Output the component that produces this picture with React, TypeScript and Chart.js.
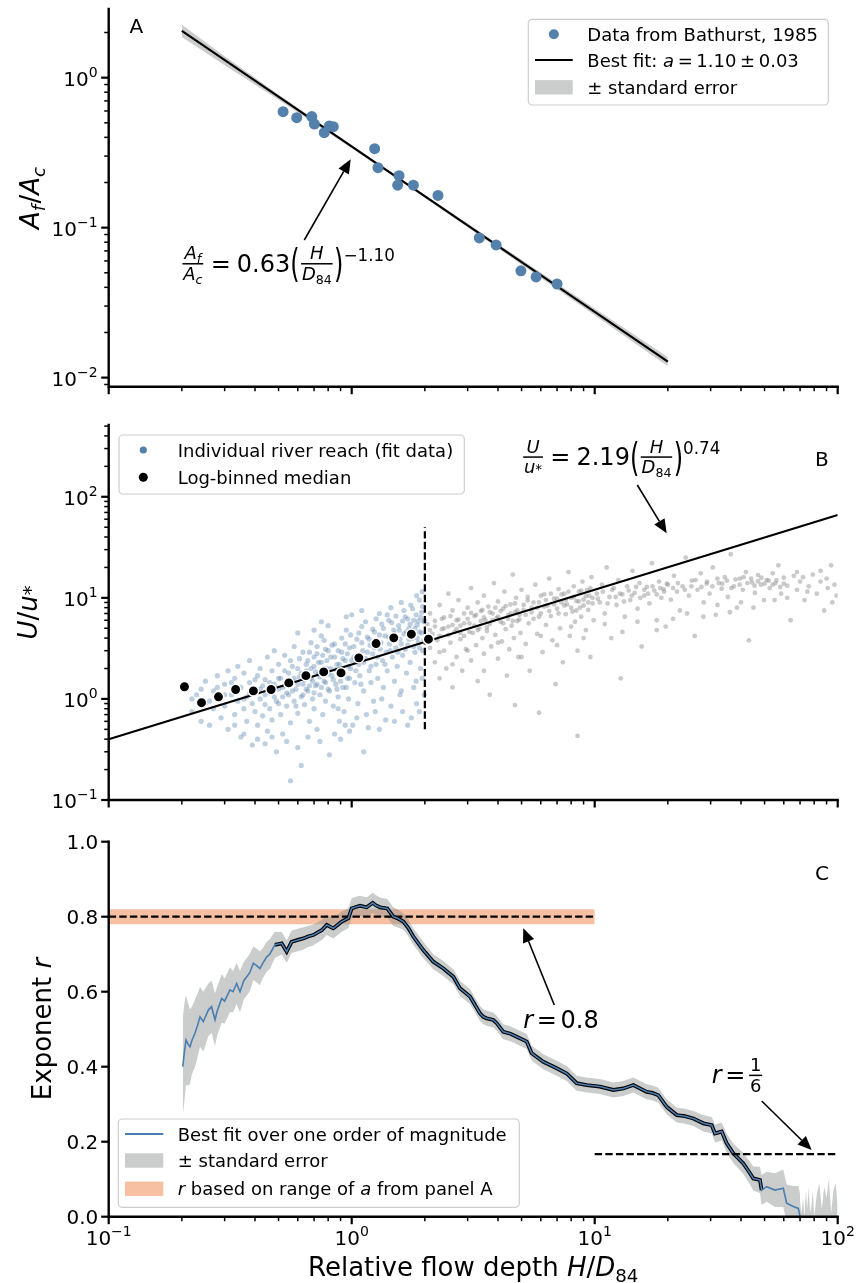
import React, { useEffect, useRef } from "react";
import { Chart, registerables } from "chart.js";
Chart.register(...registerables);

const FONT = '"DejaVu Sans", "Noto Sans", sans-serif';

// ---------------- Panel A data ----------------
const bathurstX = [0.522, 0.594, 0.685, 0.702, 0.771, 0.809, 0.84, 1.243, 1.283, 1.566, 1.546, 1.794, 2.265, 3.35, 3.93, 4.97, 5.74, 7.0];
const bathurstY = [0.593, 0.541, 0.55, 0.491, 0.43, 0.477, 0.471, 0.336, 0.251, 0.222, 0.192, 0.192, 0.164, 0.0854, 0.0767, 0.0515, 0.0469, 0.0421];
const fitAX = [0.2, 20];
const fitAY = [2.05, 0.0128];
const seAX = [0.2, 0.3, 0.5, 1, 2, 5, 10, 20];
const seALo = [1.87, 1.21, 0.712, 0.338, 0.158, 0.0569, 0.0261, 0.0119];
const seAHi = [2.25, 1.39, 0.773, 0.354, 0.165, 0.061, 0.0289, 0.0137];

// ---------------- Panel B data ----------------
const riverFit: number[][] = [
  [0.21, 1.3], [0.22, 0.75], [0.23, 1.1], [0.24, 0.6], [0.25, 1.5], [0.25, 0.9], [0.26, 0.55], [0.27, 1.2], [0.27, 0.8], [0.28, 1.7], [0.29, 1.0], [0.29, 0.65], [0.3, 1.4], [0.3, 0.85], [0.31, 0.5], [0.31, 1.9],
  [0.32, 1.1], [0.33, 0.7], [0.33, 1.6], [0.34, 0.95], [0.34, 2.1], [0.35, 0.42], [0.35, 1.3], [0.36, 0.8], [0.36, 1.8], [0.37, 1.05], [0.37, 0.6], [0.38, 1.45], [0.38, 2.4], [0.39, 0.9], [0.39, 0.35], [0.4, 1.2], [0.4, 0.75], [0.41, 1.7], [0.41, 0.55], [0.42, 1.0], [0.42, 2.0], [0.43, 1.35], [0.43, 0.68], [0.44, 0.88], [0.44, 1.55], [0.45, 2.6], [0.45, 0.48],
  [0.46, 1.15], [0.46, 0.8], [0.47, 1.9], [0.47, 0.62], [0.48, 1.4], [0.48, 3.0], [0.49, 0.95], [0.49, 0.3], [0.5, 1.25], [0.5, 2.2], [0.51, 0.7], [0.51, 1.6], [0.52, 1.05], [0.52, 0.45], [0.53, 2.7], [0.53, 1.35], [0.54, 0.85], [0.55, 1.8], [0.55, 1.1], [0.56, 0.58], [0.56, 2.4], [0.56, 0.155], [0.57, 1.5], [0.58, 0.95], [0.58, 3.3], [0.59, 1.25], [0.6, 2.0], [0.6, 0.72], [0.6, 4.5], [0.61, 1.65], [0.62, 1.05], [0.62, 0.22], [0.63, 2.9], [0.63, 1.4], [0.64, 0.88], [0.65, 1.9],
  [0.66, 2.4], [0.66, 1.2], [0.67, 0.6], [0.68, 1.6], [0.68, 3.6], [0.69, 1.0], [0.7, 2.1], [0.7, 0.8], [0.7, 4.8], [0.71, 1.35], [0.72, 2.8], [0.72, 0.5], [0.73, 1.75], [0.74, 1.1], [0.75, 4.2], [0.75, 2.3], [0.75, 5.8], [0.76, 0.7], [0.77, 1.5], [0.78, 3.1], [0.78, 0.95], [0.79, 2.0], [0.8, 1.25], [0.8, 5.3], [0.81, 0.28], [0.82, 2.6], [0.83, 1.7], [0.84, 0.85], [0.85, 3.5], [0.86, 1.4], [0.87, 2.2], [0.88, 1.05], [0.89, 0.6], [0.9, 1.9], [0.9, 0.4], [0.91, 2.9], [0.92, 1.3], [0.93, 0.75], [0.94, 2.4], [0.95, 4.8], [0.95, 6.5], [0.96, 1.6], [0.97, 1.0], [0.98, 3.2], [0.99, 2.0],
  [1.0, 6.8], [1.01, 0.55], [1.02, 2.6], [1.03, 1.45], [1.05, 3.9], [1.06, 0.9], [1.07, 2.2], [1.08, 1.7], [1.1, 5.2], [1.1, 7.5], [1.11, 3.0], [1.12, 1.2], [1.12, 0.3], [1.14, 2.5], [1.15, 0.7], [1.16, 4.1], [1.18, 1.9], [1.19, 3.4], [1.2, 1.45], [1.22, 2.8], [1.23, 0.95], [1.24, 4.6], [1.26, 2.2], [1.27, 3.7], [1.28, 1.6], [1.3, 0.5], [1.3, 7.0], [1.31, 3.1], [1.33, 5.5], [1.34, 2.4], [1.35, 1.3], [1.37, 4.2], [1.39, 2.9], [1.4, 1.9], [1.42, 6.0], [1.43, 3.5], [1.45, 0.85], [1.45, 8.0], [1.47, 2.6], [1.49, 4.8], [1.5, 1.5], [1.5, 0.6], [1.52, 3.2], [1.54, 2.1], [1.56, 5.3], [1.58, 3.9], [1.6, 1.2], [1.6, 9.0], [1.62, 2.7], [1.64, 4.4], [1.66, 6.5], [1.68, 1.8], [1.7, 3.4], [1.7, 0.55], [1.72, 5.0], [1.74, 2.3], [1.75, 8.5], [1.76, 0.65], [1.78, 4.0], [1.8, 6.0], [1.82, 2.9], [1.84, 1.5], [1.85, 10.5], [1.86, 5.4], [1.88, 3.6], [1.9, 4.6], [1.9, 9.5], [1.9, 0.75], [1.92, 2.0], [1.94, 7.2], [1.95, 11.5], [1.96, 3.0], [1.98, 5.8], [1.99, 1.1],
  [0.42, 1.25], [0.44, 1.1], [0.46, 1.45], [0.48, 1.05], [0.5, 1.6], [0.5, 0.9], [0.52, 1.3], [0.53, 1.9], [0.54, 1.15], [0.55, 1.5], [0.57, 1.2], [0.57, 2.1], [0.58, 1.6], [0.59, 0.85], [0.6, 1.4], [0.61, 2.5], [0.62, 1.8], [0.63, 1.1], [0.64, 1.55], [0.65, 2.2], [0.65, 1.25], [0.66, 1.7], [0.67, 2.9], [0.67, 1.35], [0.68, 2.0], [0.69, 1.5], [0.7, 2.6], [0.7, 1.15], [0.71, 1.85], [0.72, 3.3], [0.72, 1.4], [0.73, 2.3], [0.74, 1.65], [0.75, 1.3], [0.76, 2.7], [0.76, 1.9], [0.77, 3.8], [0.78, 1.45], [0.79, 2.4], [0.8, 1.75], [0.8, 3.0], [0.81, 1.2], [0.82, 2.0], [0.83, 3.4], [0.84, 1.55], [0.85, 2.6], [0.86, 1.95], [0.87, 1.25], [0.88, 3.0], [0.89, 2.2], [0.9, 1.5], [0.91, 4.0], [0.92, 2.5], [0.93, 1.75], [0.94, 3.5], [0.95, 1.3], [0.96, 2.8], [0.97, 2.1], [0.98, 1.6], [0.99, 4.3],
  [1.0, 2.4], [1.02, 3.3], [1.04, 1.9], [1.05, 2.7], [1.07, 4.5], [1.09, 1.4], [1.1, 3.6], [1.12, 2.3], [1.14, 5.8], [1.16, 2.9], [1.18, 3.9], [1.2, 2.1], [1.22, 4.9], [1.24, 3.2], [1.26, 6.2], [1.28, 2.6], [1.3, 4.3], [1.32, 3.6], [1.35, 5.0], [1.37, 2.2], [1.4, 6.8], [1.42, 4.1], [1.44, 3.0], [1.46, 5.7], [1.48, 3.8], [1.5, 4.4], [1.52, 6.6], [1.55, 2.9], [1.57, 4.8], [1.6, 3.5], [1.62, 5.9], [1.64, 7.5], [1.66, 3.1], [1.68, 4.6], [1.7, 6.2], [1.72, 3.9], [1.74, 5.5], [1.76, 4.3], [1.78, 7.8], [1.8, 3.3], [1.82, 5.0], [1.84, 6.8], [1.86, 4.0], [1.88, 5.9], [1.9, 3.2], [1.92, 6.4], [1.94, 4.5], [1.96, 8.2], [1.98, 3.8], [1.99, 6.0],
  [0.22, 1.0], [0.24, 1.25], [0.26, 0.95], [0.28, 1.3], [0.3, 1.1], [0.32, 1.45], [0.34, 1.2], [0.36, 1.0], [0.38, 1.15], [0.4, 1.55], [0.33, 0.55], [0.36, 0.45], [0.41, 0.4], [0.44, 0.36], [0.47, 0.42], [0.54, 0.38], [0.6, 0.33], [0.66, 0.42], [0.74, 0.38], [0.85, 0.45], [0.98, 0.48], [1.17, 0.52], [1.38, 0.62], [1.62, 0.75], [1.85, 0.9], [1.25, 0.75], [1.05, 0.65], [0.94, 0.55], [0.88, 0.8], [1.33, 1.0], [1.58, 1.1], [1.8, 1.3], [1.95, 1.6],
];
const riverOther: number[][] = [
  [2.05, 5.5], [2.1, 3.2], [2.1, 7.0], [2.15, 4.4], [2.2, 2.3], [2.2, 5.9], [2.25, 3.8], [2.3, 8.5], [2.3, 1.6], [2.35, 4.9], [2.4, 3.0], [2.4, 6.4], [2.45, 2.0], [2.5, 5.2], [2.5, 11.0], [2.55, 3.6], [2.6, 7.5], [2.6, 1.3], [2.65, 4.6], [2.7, 2.6], [2.7, 6.0], [2.75, 9.5], [2.8, 3.9], [2.8, 5.3], [2.85, 1.9], [2.9, 7.0], [2.9, 4.2], [2.95, 3.1],
  [3.0, 8.0], [3.05, 5.6], [3.1, 2.4], [3.1, 12.5], [3.15, 4.5], [3.2, 6.6], [3.25, 3.4], [3.3, 9.0], [3.3, 1.5], [3.35, 5.0], [3.4, 7.4], [3.45, 4.0], [3.5, 2.8], [3.5, 10.5], [3.55, 6.0], [3.6, 4.7], [3.65, 8.2], [3.7, 1.1], [3.7, 5.5], [3.75, 3.3], [3.8, 7.0], [3.85, 14.0], [3.9, 4.3], [3.95, 6.3], [4.0, 2.5], [4.0, 9.2], [4.1, 5.8], [4.15, 3.7], [4.2, 7.8], [4.25, 11.5], [4.3, 4.9], [4.35, 1.7], [4.4, 6.7], [4.45, 3.1], [4.5, 8.6], [4.55, 5.3], [4.6, 17.0], [4.65, 4.0], [4.7, 0.87], [4.7, 7.2], [4.75, 10.0], [4.8, 5.9], [4.85, 2.6], [4.9, 6.8], [4.95, 4.5],
  [5.0, 12.0], [5.1, 7.6], [5.2, 3.5], [5.3, 9.4], [5.35, 5.6], [5.4, 1.9], [5.5, 8.0], [5.6, 6.2], [5.7, 13.5], [5.8, 4.4], [5.9, 0.73], [5.9, 9.0], [6.0, 7.0], [6.1, 2.9], [6.2, 10.8], [6.3, 5.4], [6.4, 8.4], [6.5, 15.5], [6.6, 6.6], [6.7, 3.8], [6.8, 9.8], [6.9, 1.4], [7.0, 7.8], [7.1, 12.2], [7.2, 5.0], [7.3, 9.0], [7.4, 2.3], [7.5, 11.0], [7.6, 6.9], [7.7, 8.6], [7.8, 18.0], [7.9, 4.2], [8.0, 10.0], [8.1, 7.3], [8.2, 13.0], [8.3, 5.8], [8.4, 9.3], [8.5, 0.43], [8.5, 3.0], [8.6, 11.5], [8.7, 8.0], [8.8, 6.5], [8.9, 14.5], [9.0, 9.6], [9.2, 4.8], [9.3, 12.0], [9.4, 7.6], [9.5, 10.5], [9.6, 2.6], [9.7, 16.0], [9.8, 8.8], [9.9, 6.0],
  [10.2, 11.0], [10.5, 9.0], [10.7, 13.5], [11.0, 7.0], [11.2, 20.0], [11.5, 10.2], [11.7, 4.0], [12.0, 12.5], [12.3, 8.5], [12.5, 15.0], [12.8, 1.6], [13.0, 10.8], [13.3, 6.5], [13.6, 13.0], [14.0, 9.5], [14.3, 18.5], [14.6, 11.2], [15.0, 7.8], [15.3, 14.0], [15.6, 3.3], [16.0, 10.5], [16.4, 12.8], [16.8, 8.8], [17.2, 22.0], [17.6, 11.8], [18.0, 6.0], [18.4, 14.5], [18.8, 10.0], [19.2, 12.2], [19.6, 5.2],
  [20.0, 13.5], [20.6, 9.6], [21.2, 16.5], [21.8, 11.5], [22.4, 7.5], [23.0, 13.0], [23.7, 25.0], [24.4, 10.5], [25.1, 14.8], [25.8, 4.2], [26.5, 12.0], [27.3, 17.5], [28.1, 9.0], [28.9, 13.8], [29.7, 11.0], [30.6, 20.0], [31.5, 6.8], [32.4, 14.0], [33.3, 12.3], [34.3, 16.0], [35.3, 10.2], [36.3, 27.0], [37.4, 13.0], [38.5, 8.0], [39.6, 15.5], [40.7, 12.0], [41.9, 18.0], [43.1, 3.8], [44.4, 14.2], [45.6, 11.2], [47.0, 16.8], [48.3, 13.5], [49.7, 9.5],
  [51.0, 15.0], [52.5, 12.5], [54.0, 17.5], [55.5, 14.0], [57.0, 21.0], [58.5, 11.0], [60.0, 15.8], [62.0, 13.2], [64.0, 6.0], [66.0, 16.5], [68.0, 12.0], [70.0, 14.5], [73.0, 9.5], [76.0, 13.0], [79.0, 17.0], [82.0, 11.0], [85.0, 14.5], [88.0, 7.5], [91.0, 12.5], [94.0, 21.0], [97.0, 13.5], [99.0, 10.5],
  [2.1, 4.8], [2.2, 5.2], [2.3, 4.2], [2.35, 6.2], [2.4, 5.0], [2.5, 4.3], [2.55, 6.6], [2.6, 5.4], [2.7, 4.9], [2.75, 6.1], [2.8, 4.5], [2.9, 5.6], [3.0, 6.2], [3.05, 4.6], [3.1, 7.1], [3.2, 5.3], [3.25, 6.8], [3.3, 4.8], [3.4, 5.9], [3.45, 7.6], [3.5, 6.4], [3.6, 5.1], [3.7, 7.2], [3.8, 6.0], [3.9, 8.0], [4.0, 6.5], [4.1, 7.4], [4.2, 5.6], [4.3, 8.3], [4.4, 6.2], [4.5, 7.0], [4.6, 5.9], [4.7, 8.8], [4.8, 7.5], [4.9, 6.1],
  [5.1, 8.5], [5.2, 6.8], [5.3, 10.2], [5.5, 7.2], [5.6, 9.0], [5.8, 8.0], [5.9, 6.5], [6.0, 10.5], [6.2, 8.2], [6.3, 9.5], [6.5, 7.4], [6.6, 11.0], [6.8, 8.6], [7.0, 9.8], [7.1, 7.0], [7.3, 10.8], [7.5, 8.4], [7.6, 9.5], [7.8, 11.5], [8.0, 8.0], [8.2, 10.2], [8.4, 7.5], [8.6, 9.2], [8.8, 11.8], [9.0, 8.4], [9.2, 10.4], [9.4, 9.0], [9.6, 12.5], [9.8, 10.0],
  [10.3, 9.8], [10.8, 11.5], [11.3, 8.8], [11.8, 12.0], [12.2, 10.2], [12.7, 11.0], [13.2, 9.2], [13.8, 11.8], [14.2, 10.5], [14.8, 12.8], [15.4, 10.0], [16.0, 12.0], [16.6, 11.0], [17.3, 13.0], [18.0, 10.8], [18.6, 12.5], [19.3, 11.5], [19.8, 13.8],
  [21.0, 12.5], [22.0, 14.0], [23.5, 12.0], [25.0, 13.0], [26.0, 15.0], [27.5, 12.8], [29.0, 14.5], [30.5, 13.0], [32.0, 15.5], [33.5, 13.8], [35.0, 14.8], [36.5, 12.5], [38.0, 15.2], [39.5, 13.5], [41.0, 16.0], [42.5, 14.0], [44.0, 15.5], [45.5, 13.2], [47.0, 14.6], [48.5, 15.8], [50.0, 13.8], [52.0, 14.8], [54.0, 13.5], [56.0, 15.0], [58.0, 12.8], [60.0, 13.8],
  [2.3, 2.9], [2.6, 2.2], [3.0, 3.0], [3.5, 1.9], [4.0, 3.6], [5.0, 2.6], [6.0, 4.2], [7.0, 3.4], [8.0, 5.2], [9.0, 4.0], [11.0, 5.5], [13.0, 4.6], [15.0, 5.8], [18.0, 4.8], [21.0, 6.2], [24.0, 7.0], [28.0, 6.5], [32.0, 8.5], [36.0, 7.2], [40.0, 9.0], [45.0, 8.0], [55.0, 9.5], [62.0, 10.0], [75.0, 11.5], [90.0, 15.5], [85.0, 18.5], [95.0, 9.0], [68.0, 18.0], [72.0, 16.0],
];
const medianX = [0.205, 0.241, 0.283, 0.333, 0.394, 0.466, 0.551, 0.648, 0.767, 0.904, 1.07, 1.26, 1.49, 1.76, 2.07];
const medianY = [1.32, 0.918, 1.05, 1.24, 1.2, 1.24, 1.44, 1.7, 1.85, 1.81, 2.55, 3.53, 4.02, 4.37, 3.9];
const fitBX = [0.1, 100];
const fitBY = [0.399, 66.1];
const cutoffX = [2, 2];
const cutoffY = [0.5, 50];

// ---------------- Panel C data ----------------
const cX = [0.2018, 0.205, 0.208, 0.212, 0.216, 0.22, 0.2265, 0.232, 0.2376, 0.245,
  0.257, 0.265, 0.2738, 0.28, 0.2918, 0.3, 0.3155, 0.325, 0.336, 0.347,
  0.36, 0.37, 0.38, 0.394, 0.405, 0.419, 0.43, 0.447, 0.46, 0.483,
  0.515, 0.54, 0.566, 0.6, 0.632, 0.665, 0.695, 0.725, 0.753, 0.789,
  0.84, 0.875, 0.91, 0.969, 1.0, 1.04, 1.082, 1.153, 1.22, 1.26,
  1.308, 1.401, 1.483, 1.55, 1.63, 1.71, 1.793, 1.97, 2.167, 2.383,
  2.62, 2.79, 3.068, 3.373, 3.48, 3.594, 3.825, 3.951, 4.207, 4.5,
  4.775, 5.25, 5.505, 5.8, 6.145, 6.976, 7.67, 8.43, 9.27, 10.5,
  11.93, 13.12, 14.42, 16.37, 17.3, 18.27, 19.78, 21.76, 23.5, 25.46,
  27.99, 30.3, 31.26, 33.32, 34.9, 37.18, 40.89, 43.55, 44.96, 47.86,
  48.64, 51.0, 55.2, 59.7, 61.66, 65.6, 68.9, 70.0];
const cR = [0.4, 0.44, 0.471, 0.46, 0.453, 0.47, 0.489, 0.51, 0.533, 0.52,
  0.551, 0.56, 0.525, 0.55, 0.582, 0.575, 0.605, 0.6, 0.622, 0.6,
  0.63, 0.64, 0.65, 0.676, 0.67, 0.662, 0.675, 0.693, 0.7, 0.725,
  0.729, 0.707, 0.733, 0.738, 0.742, 0.748, 0.751, 0.758, 0.764, 0.778,
  0.769, 0.778, 0.787, 0.796, 0.822, 0.826, 0.829, 0.825, 0.837, 0.83,
  0.825, 0.822, 0.8, 0.795, 0.787, 0.77, 0.747, 0.711, 0.68, 0.662,
  0.64, 0.609, 0.587, 0.542, 0.533, 0.529, 0.5245, 0.516, 0.493, 0.488,
  0.48, 0.467, 0.436, 0.425, 0.413, 0.396, 0.382, 0.356, 0.351, 0.347,
  0.338, 0.342, 0.351, 0.333, 0.33, 0.324, 0.293, 0.271, 0.268, 0.262,
  0.249, 0.244, 0.222, 0.227, 0.196, 0.169, 0.142, 0.116, 0.102, 0.098,
  0.071, 0.08, 0.071, 0.076, 0.036, 0.027, 0.022, 0.0];
const cErr = [0.13, 0.13, 0.12, 0.11, 0.1, 0.09, 0.09, 0.085, 0.08, 0.08,
  0.07, 0.07, 0.07, 0.065, 0.065, 0.06, 0.06, 0.055, 0.055, 0.055,
  0.05, 0.05, 0.05, 0.045, 0.045, 0.045, 0.04, 0.04, 0.04, 0.035,
  0.03, 0.03, 0.03, 0.03, 0.03, 0.028, 0.028, 0.027, 0.027, 0.027,
  0.027, 0.027, 0.027, 0.027, 0.027, 0.027, 0.027, 0.027, 0.027, 0.027,
  0.026, 0.025, 0.025, 0.024, 0.022, 0.022, 0.022, 0.022, 0.02, 0.02,
  0.02, 0.02, 0.02, 0.02, 0.02, 0.02, 0.02, 0.02, 0.02, 0.02,
  0.02, 0.02, 0.02, 0.02, 0.02, 0.02, 0.02, 0.02, 0.02, 0.02,
  0.02, 0.02, 0.02, 0.02, 0.02, 0.02, 0.02, 0.02, 0.02, 0.02,
  0.022, 0.022, 0.024, 0.024, 0.025, 0.026, 0.028, 0.03, 0.032, 0.035,
  0.04, 0.04, 0.045, 0.05, 0.05, 0.055, 0.06, 0.06];
const cNoiseX = [70, 71, 72, 73, 74, 75, 76, 77, 78, 79, 80, 82, 84, 86, 88, 90, 92, 94, 96, 98, 100];
const cNoiseHi = [0.04, 0.01, 0.05, 0.0, 0.07, 0.02, 0.08, 0.01, 0.03, 0.07, 0.0, 0.06, 0.09, 0.02, 0.08, 0.05, 0.1, 0.01, 0.07, 0.09, 0.03];
const outlineRange = [0.483, 48.64];
const rangeAX = [0.1, 10];
const rangeALo = [0.78, 0.78];
const rangeAHi = [0.82, 0.82];
const rangeAMid = [0.8, 0.8];
const sixthX = [10, 100];
const sixthY = [0.1667, 0.1667];

// ---------------- ticks ----------------
const xMajor = [0.1, 1, 10, 100];
const xExp = ["−1", "0", "1", "2"];
const xMinor = [0.2, 0.3, 0.4, 0.5, 0.6, 0.7, 0.8, 0.9, 2, 3, 4, 5, 6, 7, 8, 9, 20, 30, 40, 50, 60, 70, 80, 90];
const aYMajor = [0.01, 0.1, 1];
const aYExp = ["−2", "−1", "0"];
const aYMinor = [0.009, 0.02, 0.03, 0.04, 0.05, 0.06, 0.07, 0.08, 0.09, 0.2, 0.3, 0.4, 0.5, 0.6, 0.7, 0.8, 0.9, 2];
const bYMajor = [0.1, 1, 10, 100];
const bYExp = ["−1", "0", "1", "2"];
const bYMinor = [0.2, 0.3, 0.4, 0.5, 0.6, 0.7, 0.8, 0.9, 2, 3, 4, 5, 6, 7, 8, 9, 20, 30, 40, 50, 60, 70, 80, 90, 200, 300, 400, 500];
const cYMajor = [0, 0.2, 0.4, 0.6, 0.8, 1.0];
const cYLabels = ["0.0", "0.2", "0.4", "0.6", "0.8", "1.0"];

// ---------------- styles ----------------
const BLUE = "#5381ab";
const LINE_BLUE = "#4a7eb1";
const GRAY_BAND = "rgba(140,145,145,0.45)";
const ORANGE_BAND = "rgba(240,130,70,0.5)";
const DASH = [7.4, 3.2];

// ---------------- math text helpers ----------------
type Tok =
  | { k: "t"; t: string; it?: boolean; s?: number; dy?: number }
  | { k: "sp"; w: number }
  | { k: "fr"; n: Tok[]; d: Tok[] }
  | { k: "p"; t: string };
const T = (t: string, o: { it?: boolean; s?: number; dy?: number } = {}): Tok => ({ k: "t", t, ...o });
const I = (t: string): Tok => T(t, { it: true });
const SUB = (t: string, it = false): Tok => T(t, { s: 0.7, dy: 0.22, it });
const SUP = (t: string): Tok => T(t, { s: 0.7, dy: -0.45 });
const SP = (w: number): Tok => ({ k: "sp", w });
const FR = (n: Tok[], d: Tok[]): Tok => ({ k: "fr", n, d });
const PR = (t: string): Tok => ({ k: "p", t });

function setFont(ctx: CanvasRenderingContext2D, size: number, it?: boolean) {
  ctx.font = `${it ? "italic " : ""}${size}px ${FONT}`;
}

function mathRun(ctx: CanvasRenderingContext2D, toks: Tok[], size: number, x: number, y: number, draw: boolean): number {
  let cx = x;
  for (const tk of toks) {
    if (tk.k === "t") {
      const fs = size * (tk.s ?? 1);
      setFont(ctx, fs, tk.it);
      const w = ctx.measureText(tk.t).width;
      if (draw) ctx.fillText(tk.t, cx, y + (tk.dy ?? 0) * size);
      cx += w;
    } else if (tk.k === "sp") {
      cx += tk.w * size;
    } else if (tk.k === "p") {
      setFont(ctx, size, false);
      const w = ctx.measureText(tk.t).width;
      if (draw) {
        ctx.save();
        ctx.translate(cx, y + size * 0.24);
        ctx.scale(1, 1.6);
        ctx.fillText(tk.t, 0, 0);
        ctx.restore();
      }
      cx += w;
    } else if (tk.k === "fr") {
      const fs = size * 0.75;
      const wn = mathRun(ctx, tk.n, fs, 0, 0, false);
      const wd = mathRun(ctx, tk.d, fs, 0, 0, false);
      const W = Math.max(wn, wd) + fs * 0.25;
      const axis = y - size * 0.33;
      if (draw) {
        mathRun(ctx, tk.n, fs, cx + (W - wn) / 2, axis - fs * 0.24, true);
        mathRun(ctx, tk.d, fs, cx + (W - wd) / 2, axis + fs * 0.9, true);
        ctx.fillRect(cx + fs * 0.08, axis - 0.75, W - fs * 0.16, 1.5);
      }
      cx += W;
    }
  }
  return cx - x;
}

function drawMath(ctx: CanvasRenderingContext2D, toks: Tok[], size: number, x: number, y: number, align: "left" | "center" | "right" = "left") {
  const w = mathRun(ctx, toks, size, 0, 0, false);
  const x0 = align === "left" ? x : align === "center" ? x - w / 2 : x - w;
  mathRun(ctx, toks, size, x0, y, true);
  return w;
}

function drawRotated(ctx: CanvasRenderingContext2D, toks: Tok[], size: number, cx: number, cy: number) {
  ctx.save();
  ctx.translate(cx, cy);
  ctx.rotate(-Math.PI / 2);
  const w = mathRun(ctx, toks, size, 0, 0, false);
  mathRun(ctx, toks, size, -w / 2, size * 0.36, true);
  ctx.restore();
}

function drawArrow(ctx: CanvasRenderingContext2D, x1: number, y1: number, x2: number, y2: number) {
  const a = Math.atan2(y2 - y1, x2 - x1);
  const L = 14, W = 6;
  const bx = x2 - L * Math.cos(a), by = y2 - L * Math.sin(a);
  ctx.strokeStyle = "#000";
  ctx.fillStyle = "#000";
  ctx.lineWidth = 1.6;
  ctx.beginPath();
  ctx.moveTo(x1, y1);
  ctx.lineTo(bx, by);
  ctx.stroke();
  ctx.beginPath();
  ctx.moveTo(x2, y2);
  ctx.lineTo(bx + W * Math.sin(a), by - W * Math.cos(a));
  ctx.lineTo(bx - W * Math.sin(a), by + W * Math.cos(a));
  ctx.closePath();
  ctx.fill();
}

function seg(ctx: CanvasRenderingContext2D, x1: number, y1: number, x2: number, y2: number) {
  ctx.beginPath();
  ctx.moveTo(x1, y1);
  ctx.lineTo(x2, y2);
  ctx.stroke();
}

function drawAxes(ctx: CanvasRenderingContext2D, chart: any, yMaj: number[], yMin: number[]) {
  const { left, right, top, bottom } = chart.chartArea;
  const xs = chart.scales.x, ys = chart.scales.y;
  ctx.strokeStyle = "#000";
  ctx.lineCap = "butt";
  ctx.lineWidth = 1.5;
  for (const v of xMinor) { const p = xs.getPixelForValue(v); seg(ctx, p, bottom, p, bottom + 4.5); }
  for (const v of yMin) { const p = ys.getPixelForValue(v); seg(ctx, left - 4.5, p, left, p); }
  ctx.lineWidth = 2.2;
  for (const v of xMajor) { const p = xs.getPixelForValue(v); seg(ctx, p, bottom, p, bottom + 7.5); }
  for (const v of yMaj) { const p = ys.getPixelForValue(v); seg(ctx, left - 7.5, p, left, p); }
  ctx.lineWidth = 2.4;
  ctx.lineCap = "square";
  ctx.beginPath();
  ctx.moveTo(left, top);
  ctx.lineTo(left, bottom);
  ctx.lineTo(right, bottom);
  ctx.stroke();
  ctx.lineCap = "butt";
}

const TICK = 20;
const powLabel = (e: string): Tok[] => [T("10"), T(e, { s: 0.7, dy: -0.45 })];

function yPowLabels(ctx: CanvasRenderingContext2D, chart: any, vals: number[], exps: string[]) {
  const { left } = chart.chartArea;
  ctx.fillStyle = "#000";
  vals.forEach((v, i) => {
    const p = chart.scales.y.getPixelForValue(v);
    drawMath(ctx, powLabel(exps[i]), TICK, left - 11, p + 8, "right");
  });
}

type LegendItem = { y: number; handle: (ctx: CanvasRenderingContext2D, x0: number, x1: number, y: number) => void; toks: Tok[] };
function drawLegend(ctx: CanvasRenderingContext2D, bx: number, by: number, bw: number, bh: number, hx0: number, hx1: number, tx: number, items: LegendItem[]) {
  ctx.save();
  ctx.beginPath();
  ctx.roundRect(bx, by, bw, bh, 4);
  ctx.fillStyle = "rgba(255,255,255,0.8)";
  ctx.fill();
  ctx.strokeStyle = "#cccccc";
  ctx.lineWidth = 1.2;
  ctx.stroke();
  for (const it of items) {
    it.handle(ctx, hx0, hx1, it.y);
    ctx.fillStyle = "#000";
    drawMath(ctx, it.toks, 18, tx, it.y + 6.5);
  }
  ctx.restore();
}
const dotHandle = (color: string, r: number) => (ctx: CanvasRenderingContext2D, x0: number, x1: number, y: number) => {
  ctx.beginPath();
  ctx.arc((x0 + x1) / 2, y, r, 0, Math.PI * 2);
  ctx.fillStyle = color;
  ctx.fill();
};
const lineHandle = (color: string, w: number) => (ctx: CanvasRenderingContext2D, x0: number, x1: number, y: number) => {
  ctx.strokeStyle = color;
  ctx.lineWidth = w;
  seg(ctx, x0, y, x1, y);
};
const patchHandle = (color: string) => (ctx: CanvasRenderingContext2D, x0: number, x1: number, y: number) => {
  ctx.fillStyle = color;
  ctx.fillRect(x0, y - 7.2, x1 - x0, 14.4);
};

// ---------------- dataset helpers ----------------
const xy = (xs: number[], ys: number[]) => xs.map((x, i) => ({ x, y: ys[i] }));
const pts = (a: number[][]) => a.map(([x, y]) => ({ x, y }));
const lineDs = (data: any[], color: string, width: number, order: number, extra: any = {}) => ({
  type: "line", data, borderColor: color, borderWidth: width, pointRadius: 0, fill: false, tension: 0, order, ...extra,
});
const bandLo = (data: any[], order: number) => ({
  type: "line", data, borderColor: "transparent", borderWidth: 0.01, pointRadius: 0, fill: false, order,
});
const bandHi = (data: any[], color: string, order: number, fill: any = "-1") => ({
  type: "line", data, borderColor: "transparent", borderWidth: 0.01, pointRadius: 0, fill, backgroundColor: color, order,
});
const scatterDs = (data: any[], color: string, r: number, order: number, extra: any = {}) => ({
  type: "scatter", data, pointRadius: r, pointBackgroundColor: color, pointBorderWidth: 0, pointBorderColor: "transparent", order, ...extra,
});

type Panel = {
  top: number; height: number;
  pad: { left: number; right: number; top: number; bottom: number };
  y: any; datasets: any[];
  deco: (ctx: CanvasRenderingContext2D, chart: any) => void;
};

const PAD_L = 108.7, PAD_R = 860 - 837.7;
const ANN = 24;

const panelA: Panel = {
  top: 0, height: 405,
  pad: { left: PAD_L, right: PAD_R, top: 9, bottom: 405 - 386.7 },
  y: { type: "logarithmic", min: 0.0087, max: 2.87 },
  datasets: [
    bandLo(xy(seAX, seALo), 10),
    bandHi(xy(seAX, seAHi), GRAY_BAND, 9),
    lineDs(xy(fitAX, fitAY), "#000", 2.2, 5),
    scatterDs(xy(bathurstX, bathurstY), BLUE, 5.5, 2),
  ],
  deco: (ctx, chart) => {
    drawAxes(ctx, chart, aYMajor, aYMinor);
    yPowLabels(ctx, chart, aYMajor, aYExp);
    ctx.fillStyle = "#000";
    drawRotated(ctx, [I("A"), SUB("f", true), SP(0.05), T("/"), I("A"), SUB("c", true)], 26, 30, 198);
    setFont(ctx, 20);
    ctx.fillText("A", 129.5, 32.8);
    drawMath(ctx, [FR([I("A"), SUB("f", true)], [I("A"), SUB("c", true)]), SP(0.25), T("="), SP(0.25), T("0.63"), PR("("), FR([I("H")], [I("D"), SUB("84")]), PR(")"), SUP("−1.10")], ANN, 181, 271.7);
    drawArrow(ctx, 304.3, 240, 350.7, 159.3);
    drawLegend(ctx, 528.3, 19.3, 300, 85.7, 535, 572.7, 587.3, [
      { y: 34.3, handle: dotHandle(BLUE, 5), toks: [T("Data from Bathurst, 1985")] },
      { y: 60, handle: lineHandle("#000", 2.2), toks: [T("Best fit: "), I("a"), SP(0.2), T("="), SP(0.2), T("1.10"), SP(0.2), T("±"), SP(0.2), T("0.03")] },
      { y: 87.3, handle: patchHandle(GRAY_BAND), toks: [T("± standard error")] },
    ]);
  },
};

const panelB: Panel = {
  top: 405, height: 415,
  pad: { left: PAD_L, right: PAD_R, top: 20, bottom: 20 },
  y: { type: "logarithmic", min: 0.1, max: 513 },
  datasets: [
    scatterDs(pts(riverOther), "rgba(128,128,128,0.42)", 2.4, 10),
    scatterDs(pts(riverFit), "rgba(83,129,171,0.38)", 2.6, 9),
    lineDs(xy(fitBX, fitBY), "#000", 2.2, 5),
    lineDs(xy(cutoffX, cutoffY), "#000", 2.2, 4, { borderDash: DASH }),
    scatterDs(xy(medianX, medianY), "#000", 5.2, 1, { pointBorderWidth: 1.5, pointBorderColor: "#fff" }),
  ],
  deco: (ctx, chart) => {
    drawAxes(ctx, chart, bYMajor, bYMinor);
    yPowLabels(ctx, chart, bYMajor, bYExp);
    ctx.translate(0, -405);
    ctx.fillStyle = "#000";
    drawRotated(ctx, [I("U"), T("/"), I("u"), T("*", { s: 0.75, dy: 0.0 })], 26, 27.5, 612.5);
    setFont(ctx, 20);
    ctx.fillText("B", 815, 465.5);
    drawMath(ctx, [FR([I("U")], [I("u"), T("*", { s: 0.75, dy: 0.05 })]), SP(0.25), T("="), SP(0.25), T("2.19"), PR("("), FR([I("H")], [I("D"), SUB("84")]), PR(")"), SUP("0.74")], ANN, 521.7, 465);
    drawArrow(ctx, 637.3, 485, 666.7, 533.3);
    drawLegend(ctx, 119, 435, 345.3, 59, 125, 161.6, 177.7, [
      { y: 450, handle: dotHandle(BLUE, 3.6), toks: [T("Individual river reach (fit data)")] },
      { y: 477.3, handle: dotHandle("#000", 4.5), toks: [T("Log-binned median")] },
    ]);
  },
};

const outlineIdx = cX.map((x, i) => (x >= outlineRange[0] && x <= outlineRange[1] ? i : -1)).filter((i) => i >= 0);

const panelC: Panel = {
  top: 820, height: 463,
  pad: { left: PAD_L, right: PAD_R, top: 21.7, bottom: 463 - 396.7 },
  y: { type: "linear", min: 0, max: 1 },
  datasets: [
    bandLo(xy(rangeAX, rangeALo), 20),
    bandHi(xy(rangeAX, rangeAHi), ORANGE_BAND, 19),
    bandLo(cX.map((x, i) => ({ x, y: cR[i] - cErr[i] })), 18),
    bandHi(cX.map((x, i) => ({ x, y: cR[i] + cErr[i] })), GRAY_BAND, 17),
    bandHi(xy(cNoiseX, cNoiseHi), GRAY_BAND, 16, "origin"),
    lineDs(xy(rangeAX, rangeAMid), "#000", 2.2, 8, { borderDash: DASH }),
    lineDs(outlineIdx.map((i) => ({ x: cX[i], y: cR[i] })), "#000", 3.8, 6),
    lineDs(xy(cX, cR), LINE_BLUE, 1.6, 5),
    lineDs(xy(sixthX, sixthY), "#000", 2.2, 4, { borderDash: DASH }),
  ],
  deco: (ctx, chart) => {
    drawAxes(ctx, chart, cYMajor, []);
    const { left, bottom } = chart.chartArea;
    ctx.fillStyle = "#000";
    cYMajor.forEach((v, i) => {
      const p = chart.scales.y.getPixelForValue(v);
      drawMath(ctx, [T(cYLabels[i])], TICK, left - 10.4, p + 7.3, "right");
    });
    xMajor.forEach((v, i) => {
      const p = chart.scales.x.getPixelForValue(v);
      drawMath(ctx, powLabel(xExp[i]), TICK, p, bottom + 28.3, "center");
    });
    ctx.translate(0, -820);
    drawRotated(ctx, [T("Exponent "), I("r")], 26, 41.7, 1029);
    drawMath(ctx, [T("Relative flow depth "), I("H"), T("/"), I("D"), SUB("84")], 26, 473.2, 1276, "center");
    setFont(ctx, 20);
    ctx.fillText("C", 815, 879.5);
    drawMath(ctx, [I("r"), SP(0.15), T("="), SP(0.15), T("0.8")], ANN, 523.3, 1028.3);
    drawArrow(ctx, 554.3, 1005, 523.3, 928.3);
    drawMath(ctx, [I("r"), SP(0.15), T("="), SP(0.1), FR([T("1")], [T("6")])], ANN, 711.7, 1083.3);
    drawArrow(ctx, 761.7, 1101, 811.7, 1150);
    drawLegend(ctx, 118.3, 1119, 401, 88.3, 125, 163.3, 177.7, [
      { y: 1134, handle: lineHandle(LINE_BLUE, 1.8), toks: [T("Best fit over one order of magnitude")] },
      { y: 1160.5, handle: patchHandle(GRAY_BAND), toks: [T("± standard error")] },
      { y: 1188.8, handle: patchHandle(ORANGE_BAND), toks: [I("r"), T(" based on range of "), I("a"), T(" from panel A")] },
    ]);
  },
};

const panels = [panelA, panelB, panelC];

function makeConfig(p: Panel): any {
  return {
    type: "scatter",
    data: { datasets: p.datasets },
    options: {
      animation: false,
      responsive: false,
      maintainAspectRatio: false,
      events: [],
      layout: { padding: p.pad },
      scales: {
        x: { type: "logarithmic", min: 0.1, max: 100, display: false },
        y: { ...p.y, display: false },
      },
      plugins: { legend: { display: false }, tooltip: { enabled: false } },
    },
    plugins: [
      {
        id: "deco",
        afterDraw(chart: any) {
          const ctx = chart.ctx as CanvasRenderingContext2D;
          ctx.save();
          ctx.textBaseline = "alphabetic";
          ctx.textAlign = "left";
          p.deco(ctx, chart);
          ctx.restore();
        },
      },
    ],
  };
}

export default function App() {
  const r0 = useRef<HTMLCanvasElement>(null);
  const r1 = useRef<HTMLCanvasElement>(null);
  const r2 = useRef<HTMLCanvasElement>(null);
  const refs = [r0, r1, r2];
  useEffect(() => {
    const charts = panels.map((p, i) => new Chart(refs[i].current!, makeConfig(p)));
    return () => charts.forEach((c) => c.destroy());
  }, []);
  return (
    <div style={{ position: "absolute", left: 0, top: 0, width: 860, height: 1283, background: "#fff", overflow: "hidden" }}>
      {panels.map((p, i) => (
        <canvas key={i} ref={refs[i]} width={860} height={p.height} style={{ position: "absolute", left: 0, top: p.top, width: 860, height: p.height }} />
      ))}
    </div>
  );
}
